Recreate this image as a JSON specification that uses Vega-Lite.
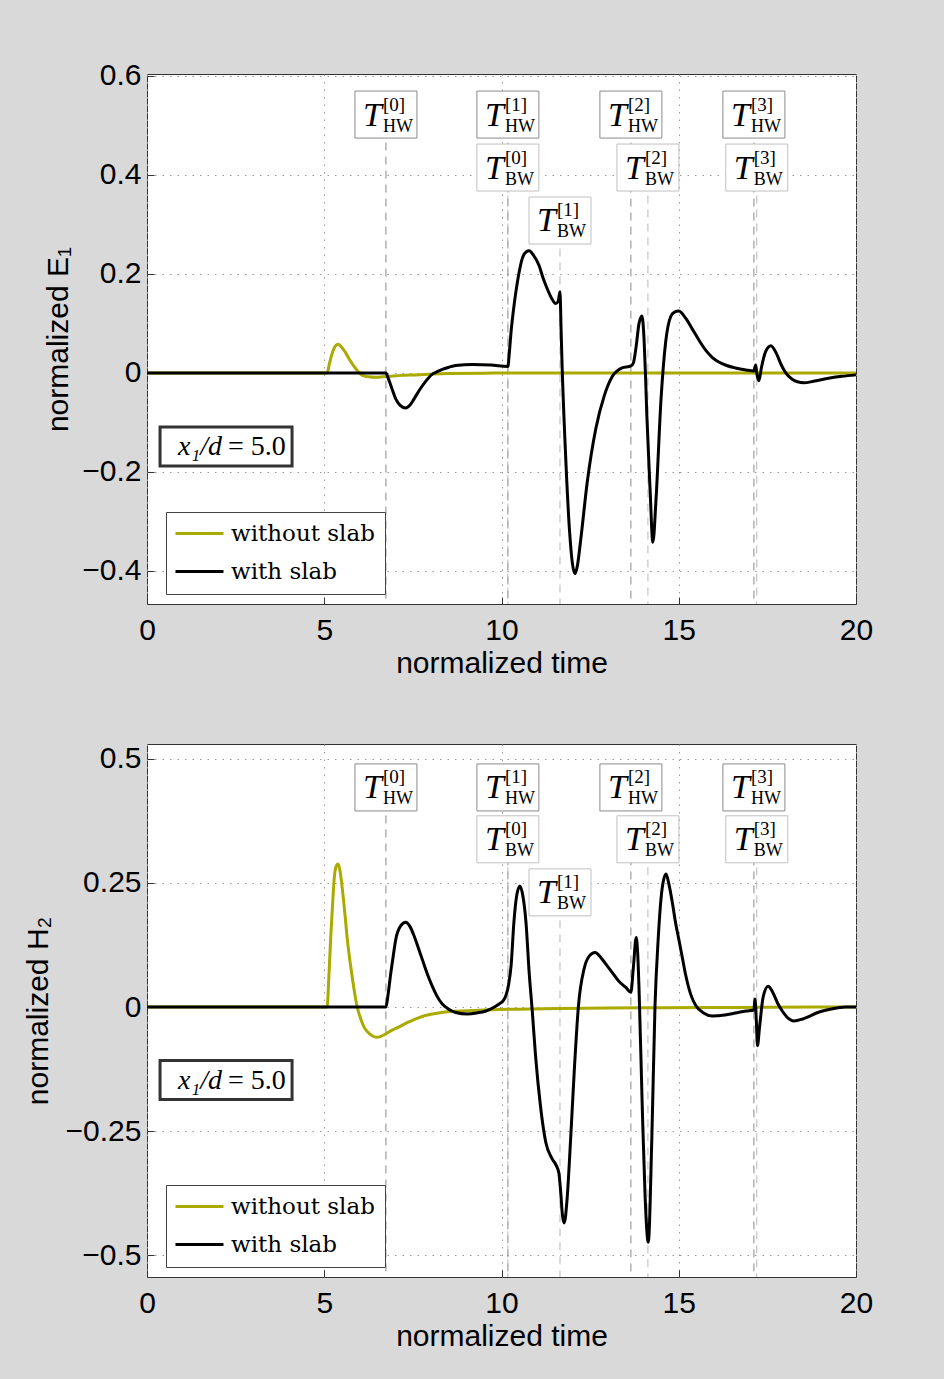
{
  "$schema": "https://vega.github.io/schema/vega-lite/v6.json",
  "background": "#d9d9d9",
  "padding": {"left": 22, "top": 60, "right": 70, "bottom": 33},
  "spacing": 140,
  "bounds": "flush",
  "config": {
    "view": {"fill": "white", "stroke": "#333333", "strokeWidth": 1},
    "axis": {
      "labelFont": "Liberation Sans", "labelFontSize": 30, "labelColor": "black",
      "titleFont": "Liberation Sans", "titleFontSize": 30, "titleFontWeight": "normal", "titleColor": "black",
      "domain": false, "ticks": true, "tickSize": -7, "tickColor": "#333333",
      "grid": true, "gridColor": "#9a9a9a", "gridDash": [1.5, 6], "gridWidth": 1,
      "labelFlush": false, "labelOverlap": false
    }
  },
  "resolve": {"scale": {"color": "independent"}, "legend": {"color": "independent"}},
  "datasets": {
    "top": [
      {"s":"without slab","t":0,"v":0},{"s":"without slab","t":5.08,"v":0},{"s":"without slab","t":5.15,"v":0.02},{"s":"without slab","t":5.23,"v":0.041},{"s":"without slab","t":5.31,"v":0.054},{"s":"without slab","t":5.39,"v":0.058},{"s":"without slab","t":5.48,"v":0.053},{"s":"without slab","t":5.6,"v":0.041},{"s":"without slab","t":5.72,"v":0.026},{"s":"without slab","t":5.84,"v":0.013},{"s":"without slab","t":5.95,"v":0.003},{"s":"without slab","t":6.07,"v":-0.005},{"s":"without slab","t":6.25,"v":-0.008},{"s":"without slab","t":6.45,"v":-0.009},{"s":"without slab","t":6.65,"v":-0.008},{"s":"without slab","t":6.83,"v":-0.007},{"s":"without slab","t":7.2,"v":-0.005},{"s":"without slab","t":7.58,"v":-0.004},{"s":"without slab","t":8.05,"v":-0.002},{"s":"without slab","t":8.52,"v":-0.001},{"s":"without slab","t":9.5,"v":-0.0005},{"s":"without slab","t":11,"v":0},{"s":"without slab","t":20,"v":0},
      {"s":"with slab","t":0,"v":0},{"s":"with slab","t":6.74,"v":0},{"s":"with slab","t":6.8,"v":-0.01},{"s":"with slab","t":6.9,"v":-0.03},{"s":"with slab","t":7.02,"v":-0.053},{"s":"with slab","t":7.15,"v":-0.066},{"s":"with slab","t":7.3,"v":-0.071},{"s":"with slab","t":7.42,"v":-0.065},{"s":"with slab","t":7.53,"v":-0.053},{"s":"with slab","t":7.7,"v":-0.033},{"s":"with slab","t":7.85,"v":-0.018},{"s":"with slab","t":8.04,"v":-0.003},{"s":"with slab","t":8.2,"v":0.003},{"s":"with slab","t":8.33,"v":0.007},{"s":"with slab","t":8.5,"v":0.011},{"s":"with slab","t":8.71,"v":0.015},{"s":"with slab","t":9.18,"v":0.017},{"s":"with slab","t":9.7,"v":0.016},{"s":"with slab","t":10.18,"v":0.013},{"s":"with slab","t":10.22,"v":0.04},{"s":"with slab","t":10.27,"v":0.083},{"s":"with slab","t":10.36,"v":0.14},{"s":"with slab","t":10.45,"v":0.184},{"s":"with slab","t":10.58,"v":0.23},{"s":"with slab","t":10.7,"v":0.245},{"s":"with slab","t":10.78,"v":0.247},{"s":"with slab","t":10.9,"v":0.238},{"s":"with slab","t":11.06,"v":0.217},{"s":"with slab","t":11.18,"v":0.19},{"s":"with slab","t":11.29,"v":0.17},{"s":"with slab","t":11.42,"v":0.15},{"s":"with slab","t":11.53,"v":0.14},{"s":"with slab","t":11.6,"v":0.145},{"s":"with slab","t":11.65,"v":0.164},{"s":"with slab","t":11.68,"v":0.09},{"s":"with slab","t":11.71,"v":0.014},{"s":"with slab","t":11.8,"v":-0.153},{"s":"with slab","t":11.92,"v":-0.32},{"s":"with slab","t":12.0,"v":-0.385},{"s":"with slab","t":12.07,"v":-0.406},{"s":"with slab","t":12.14,"v":-0.39},{"s":"with slab","t":12.23,"v":-0.34},{"s":"with slab","t":12.42,"v":-0.22},{"s":"with slab","t":12.66,"v":-0.113},{"s":"with slab","t":12.9,"v":-0.046},{"s":"with slab","t":13.12,"v":-0.008},{"s":"with slab","t":13.4,"v":0.01},{"s":"with slab","t":13.65,"v":0.014},{"s":"with slab","t":13.72,"v":0.02},{"s":"with slab","t":13.79,"v":0.049},{"s":"with slab","t":13.88,"v":0.1},{"s":"with slab","t":13.96,"v":0.115},{"s":"with slab","t":14.02,"v":0.07},{"s":"with slab","t":14.06,"v":0.0},{"s":"with slab","t":14.1,"v":-0.086},{"s":"with slab","t":14.19,"v":-0.234},{"s":"with slab","t":14.27,"v":-0.342},{"s":"with slab","t":14.36,"v":-0.254},{"s":"with slab","t":14.5,"v":-0.053},{"s":"with slab","t":14.63,"v":0.062},{"s":"with slab","t":14.78,"v":0.115},{"s":"with slab","t":14.88,"v":0.123},{"s":"with slab","t":15.0,"v":0.125},{"s":"with slab","t":15.2,"v":0.11},{"s":"with slab","t":15.38,"v":0.089},{"s":"with slab","t":15.58,"v":0.065},{"s":"with slab","t":15.77,"v":0.045},{"s":"with slab","t":15.95,"v":0.031},{"s":"with slab","t":16.13,"v":0.022},{"s":"with slab","t":16.35,"v":0.015},{"s":"with slab","t":16.6,"v":0.01},{"s":"with slab","t":16.9,"v":0.006},{"s":"with slab","t":17.12,"v":0.004},{"s":"with slab","t":17.17,"v":0.016},{"s":"with slab","t":17.2,"v":0.0},{"s":"with slab","t":17.26,"v":-0.016},{"s":"with slab","t":17.33,"v":0.01},{"s":"with slab","t":17.45,"v":0.043},{"s":"with slab","t":17.6,"v":0.055},{"s":"with slab","t":17.75,"v":0.04},{"s":"with slab","t":17.9,"v":0.015},{"s":"with slab","t":18.02,"v":0.0},{"s":"with slab","t":18.2,"v":-0.013},{"s":"with slab","t":18.35,"v":-0.018},{"s":"with slab","t":18.53,"v":-0.02},{"s":"with slab","t":18.8,"v":-0.017},{"s":"with slab","t":19.15,"v":-0.012},{"s":"with slab","t":19.6,"v":-0.007},{"s":"with slab","t":20,"v":-0.004}
    ],
    "bot": [
      {"s":"without slab","t":0,"v":0},{"s":"without slab","t":5.08,"v":0},{"s":"without slab","t":5.13,"v":0.06},{"s":"without slab","t":5.18,"v":0.137},{"s":"without slab","t":5.23,"v":0.2},{"s":"without slab","t":5.28,"v":0.258},{"s":"without slab","t":5.33,"v":0.282},{"s":"without slab","t":5.39,"v":0.288},{"s":"without slab","t":5.45,"v":0.272},{"s":"without slab","t":5.51,"v":0.238},{"s":"without slab","t":5.58,"v":0.19},{"s":"without slab","t":5.65,"v":0.137},{"s":"without slab","t":5.75,"v":0.08},{"s":"without slab","t":5.84,"v":0.036},{"s":"without slab","t":5.93,"v":0.0},{"s":"without slab","t":6.03,"v":-0.024},{"s":"without slab","t":6.12,"v":-0.04},{"s":"without slab","t":6.22,"v":-0.05},{"s":"without slab","t":6.35,"v":-0.058},{"s":"without slab","t":6.47,"v":-0.061},{"s":"without slab","t":6.6,"v":-0.059},{"s":"without slab","t":6.74,"v":-0.054},{"s":"without slab","t":6.9,"v":-0.047},{"s":"without slab","t":7.11,"v":-0.04},{"s":"without slab","t":7.35,"v":-0.031},{"s":"without slab","t":7.58,"v":-0.024},{"s":"without slab","t":7.8,"v":-0.018},{"s":"without slab","t":8.05,"v":-0.014},{"s":"without slab","t":8.3,"v":-0.011},{"s":"without slab","t":8.6,"v":-0.009},{"s":"without slab","t":9.2,"v":-0.007},{"s":"without slab","t":9.93,"v":-0.005},{"s":"without slab","t":10.8,"v":-0.004},{"s":"without slab","t":11.65,"v":-0.003},{"s":"without slab","t":13,"v":-0.002},{"s":"without slab","t":14.5,"v":-0.0015},{"s":"without slab","t":16,"v":-0.001},{"s":"without slab","t":17.5,"v":-0.0005},{"s":"without slab","t":20,"v":0},
      {"s":"with slab","t":0,"v":0},{"s":"with slab","t":6.74,"v":0},{"s":"with slab","t":6.8,"v":0.025},{"s":"with slab","t":6.88,"v":0.07},{"s":"with slab","t":6.95,"v":0.105},{"s":"with slab","t":7.02,"v":0.137},{"s":"with slab","t":7.15,"v":0.163},{"s":"with slab","t":7.3,"v":0.171},{"s":"with slab","t":7.42,"v":0.162},{"s":"with slab","t":7.53,"v":0.144},{"s":"with slab","t":7.65,"v":0.12},{"s":"with slab","t":7.76,"v":0.097},{"s":"with slab","t":7.9,"v":0.068},{"s":"with slab","t":8.04,"v":0.043},{"s":"with slab","t":8.18,"v":0.022},{"s":"with slab","t":8.33,"v":0.006},{"s":"with slab","t":8.5,"v":-0.004},{"s":"with slab","t":8.71,"v":-0.011},{"s":"with slab","t":9.03,"v":-0.014},{"s":"with slab","t":9.3,"v":-0.012},{"s":"with slab","t":9.56,"v":-0.008},{"s":"with slab","t":9.8,"v":0.0},{"s":"with slab","t":9.93,"v":0.006},{"s":"with slab","t":10.05,"v":0.013},{"s":"with slab","t":10.12,"v":0.022},{"s":"with slab","t":10.2,"v":0.045},{"s":"with slab","t":10.27,"v":0.083},{"s":"with slab","t":10.35,"v":0.171},{"s":"with slab","t":10.43,"v":0.225},{"s":"with slab","t":10.52,"v":0.244},{"s":"with slab","t":10.6,"v":0.225},{"s":"with slab","t":10.69,"v":0.171},{"s":"with slab","t":10.78,"v":0.07},{"s":"with slab","t":10.87,"v":-0.01},{"s":"with slab","t":10.96,"v":-0.098},{"s":"with slab","t":11.1,"v":-0.2},{"s":"with slab","t":11.25,"v":-0.273},{"s":"with slab","t":11.43,"v":-0.306},{"s":"with slab","t":11.55,"v":-0.32},{"s":"with slab","t":11.62,"v":-0.335},{"s":"with slab","t":11.67,"v":-0.373},{"s":"with slab","t":11.72,"v":-0.42},{"s":"with slab","t":11.77,"v":-0.435},{"s":"with slab","t":11.85,"v":-0.387},{"s":"with slab","t":11.95,"v":-0.266},{"s":"with slab","t":12.05,"v":-0.132},{"s":"with slab","t":12.17,"v":0.002},{"s":"with slab","t":12.33,"v":0.077},{"s":"with slab","t":12.48,"v":0.103},{"s":"with slab","t":12.64,"v":0.11},{"s":"with slab","t":12.8,"v":0.1},{"s":"with slab","t":12.94,"v":0.087},{"s":"with slab","t":13.12,"v":0.07},{"s":"with slab","t":13.31,"v":0.052},{"s":"with slab","t":13.5,"v":0.04},{"s":"with slab","t":13.65,"v":0.03},{"s":"with slab","t":13.72,"v":0.08},{"s":"with slab","t":13.8,"v":0.14},{"s":"with slab","t":13.84,"v":0.11},{"s":"with slab","t":13.88,"v":0.036},{"s":"with slab","t":13.97,"v":-0.2},{"s":"with slab","t":14.05,"v":-0.38},{"s":"with slab","t":14.14,"v":-0.474},{"s":"with slab","t":14.24,"v":-0.266},{"s":"with slab","t":14.33,"v":0.002},{"s":"with slab","t":14.42,"v":0.137},{"s":"with slab","t":14.53,"v":0.238},{"s":"with slab","t":14.64,"v":0.268},{"s":"with slab","t":14.73,"v":0.245},{"s":"with slab","t":14.82,"v":0.21},{"s":"with slab","t":14.91,"v":0.17},{"s":"with slab","t":15.0,"v":0.137},{"s":"with slab","t":15.1,"v":0.1},{"s":"with slab","t":15.2,"v":0.063},{"s":"with slab","t":15.34,"v":0.025},{"s":"with slab","t":15.48,"v":0.003},{"s":"with slab","t":15.7,"v":-0.012},{"s":"with slab","t":15.94,"v":-0.018},{"s":"with slab","t":16.3,"v":-0.016},{"s":"with slab","t":16.6,"v":-0.012},{"s":"with slab","t":16.9,"v":-0.008},{"s":"with slab","t":17.12,"v":-0.006},{"s":"with slab","t":17.15,"v":0.016},{"s":"with slab","t":17.19,"v":-0.03},{"s":"with slab","t":17.22,"v":-0.078},{"s":"with slab","t":17.28,"v":-0.04},{"s":"with slab","t":17.38,"v":0.02},{"s":"with slab","t":17.52,"v":0.042},{"s":"with slab","t":17.65,"v":0.03},{"s":"with slab","t":17.8,"v":0.006},{"s":"with slab","t":17.92,"v":-0.008},{"s":"with slab","t":18.05,"v":-0.02},{"s":"with slab","t":18.25,"v":-0.028},{"s":"with slab","t":18.5,"v":-0.024},{"s":"with slab","t":18.96,"v":-0.01},{"s":"with slab","t":19.3,"v":-0.004},{"s":"with slab","t":19.7,"v":0.0},{"s":"with slab","t":20,"v":0}
    ],
    "annTop": [
      {"t":6.74,"v":0.522,"sup":"[0]","sub":"HW"},{"t":10.18,"v":0.522,"sup":"[1]","sub":"HW"},{"t":13.65,"v":0.522,"sup":"[2]","sub":"HW"},{"t":17.12,"v":0.522,"sup":"[3]","sub":"HW"},
      {"t":10.18,"v":0.415,"sup":"[0]","sub":"BW"},{"t":11.65,"v":0.308,"sup":"[1]","sub":"BW"},{"t":14.13,"v":0.415,"sup":"[2]","sub":"BW"},{"t":17.2,"v":0.415,"sup":"[3]","sub":"BW"}
    ],
    "annBot": [
      {"t":6.74,"v":0.4425,"sup":"[0]","sub":"HW"},{"t":10.18,"v":0.4425,"sup":"[1]","sub":"HW"},{"t":13.65,"v":0.4425,"sup":"[2]","sub":"HW"},{"t":17.12,"v":0.4425,"sup":"[3]","sub":"HW"},
      {"t":10.18,"v":0.338,"sup":"[0]","sub":"BW"},{"t":11.65,"v":0.231,"sup":"[1]","sub":"BW"},{"t":14.13,"v":0.338,"sup":"[2]","sub":"BW"},{"t":17.2,"v":0.338,"sup":"[3]","sub":"BW"}
    ],
    "boxTop": [{"t":2.23,"v":-0.1485}],
    "boxBot": [{"t":2.23,"v":-0.147}]
  },
  "vconcat": [
    {
      "width": 709, "height": 530,
      "encoding": {
        "x": {"field": "t", "type": "quantitative", "scale": {"domain": [0, 20], "nice": false, "zero": false},
              "axis": {"title": "normalized time", "values": [0, 5, 10, 15, 20], "format": "d", "labelPadding": 18, "titlePadding": 3}},
        "y": {"field": "v", "type": "quantitative", "scale": {"domain": [-0.467, 0.604], "nice": false, "zero": false},
              "axis": {"title": "normalized E₁", "values": [-0.4, -0.2, 0, 0.2, 0.4, 0.6], "labelExpr": "datum.value < 0 ? '−' + toString(-datum.value) : toString(datum.value)", "labelPadding": 13, "titlePadding": 8}}
      },
      "layer": [
        {"data": {"name": "annTop"}, "mark": {"type": "rule", "strokeDash": [8, 6], "strokeWidth": 1},
         "encoding": {"y2": {"value": "height"}, "stroke": {"condition": {"test": "datum.sub == 'HW'", "value": "#8a8a8a"}, "value": "#b8b8b8"}}},
        {"data": {"name": "top"}, "transform": [{"filter": "datum.s == 'without slab'"}],
         "mark": {"type": "line", "strokeWidth": 3, "interpolate": "monotone"},
         "encoding": {"color": {"field": "s", "type": "nominal", "scale": {"domain": ["without slab", "with slab"], "range": ["#aaaa00", "#000000"]},
           "legend": {"orient": "none", "legendX": 19, "legendY": 438, "title": null, "symbolType": "M-2.4,0L2.4,0", "symbolSize": 400, "symbolStrokeWidth": 3, "symbolOffset": 12,
                      "labelFont": "DejaVu Serif", "labelFontSize": 23, "labelColor": "black", "labelOffset": 20, "fillColor": "white", "strokeColor": "#444444",
                      "padding": 10, "rowPadding": 14}}}},
        {"data": {"name": "top"}, "transform": [{"filter": "datum.s == 'with slab'"}],
         "mark": {"type": "line", "strokeWidth": 3, "interpolate": "monotone"},
         "encoding": {"color": {"field": "s", "type": "nominal", "scale": {"domain": ["without slab", "with slab"], "range": ["#aaaa00", "#000000"]}}}},
        {"data": {"name": "annTop"}, "mark": {"type": "point", "shape": "M-1,-0.758L1,-0.758L1,0.758L-1,0.758Z", "size": 3844, "filled": true, "fill": "white", "strokeWidth": 1, "opacity": 1},
         "encoding": {"stroke": {"condition": {"test": "datum.sub == 'HW'", "value": "#8a8a8a"}, "value": "#c0c0c0"}}},
        {"data": {"name": "annTop"}, "mark": {"type": "text", "text": "T", "font": "Liberation Serif", "fontStyle": "italic", "fontSize": 34, "align": "right", "baseline": "alphabetic", "dx": -4, "dy": 11, "color": "black"}},
        {"data": {"name": "annTop"}, "mark": {"type": "text", "font": "Liberation Serif", "fontSize": 19, "align": "left", "baseline": "alphabetic", "dx": -3, "dy": -4, "color": "black"}, "encoding": {"text": {"field": "sup"}}},
        {"data": {"name": "annTop"}, "mark": {"type": "text", "font": "Liberation Serif", "fontSize": 18, "align": "left", "baseline": "alphabetic", "dx": -3, "dy": 17, "color": "black"}, "encoding": {"text": {"field": "sub"}}},
        {"data": {"name": "boxTop"}, "mark": {"type": "point", "shape": "M-1,-0.2955L1,-0.2955L1,0.2955L-1,0.2955Z", "size": 17424, "filled": true, "fill": "white", "stroke": "#333333", "strokeWidth": 3, "opacity": 1}},
        {"data": {"name": "boxTop"}, "mark": {"type": "text", "text": "x₁/d", "font": "Liberation Serif", "fontStyle": "italic", "fontSize": 28, "align": "right", "baseline": "alphabetic", "dx": -4, "dy": 9, "color": "black"}},
        {"data": {"name": "boxTop"}, "mark": {"type": "text", "text": "= 5.0", "font": "Liberation Serif", "fontSize": 28, "align": "left", "baseline": "alphabetic", "dx": 2, "dy": 9, "color": "black"}}
      ]
    },
    {
      "width": 709, "height": 533,
      "encoding": {
        "x": {"field": "t", "type": "quantitative", "scale": {"domain": [0, 20], "nice": false, "zero": false},
              "axis": {"title": "normalized time", "values": [0, 5, 10, 15, 20], "format": "d", "labelPadding": 18, "titlePadding": 3}},
        "y": {"field": "v", "type": "quantitative", "scale": {"domain": [-0.544, 0.53], "nice": false, "zero": false},
              "axis": {"title": "normalized H₂", "values": [-0.5, -0.25, 0, 0.25, 0.5], "labelExpr": "datum.value < 0 ? '−' + toString(-datum.value) : toString(datum.value)", "labelPadding": 13, "titlePadding": 12}}
      },
      "layer": [
        {"data": {"name": "annBot"}, "mark": {"type": "rule", "strokeDash": [8, 6], "strokeWidth": 1},
         "encoding": {"y2": {"value": "height"}, "stroke": {"condition": {"test": "datum.sub == 'HW'", "value": "#8a8a8a"}, "value": "#b8b8b8"}}},
        {"data": {"name": "bot"}, "transform": [{"filter": "datum.s == 'without slab'"}],
         "mark": {"type": "line", "strokeWidth": 3, "interpolate": "monotone"},
         "encoding": {"color": {"field": "s", "type": "nominal", "scale": {"domain": ["without slab", "with slab"], "range": ["#aaaa00", "#000000"]},
           "legend": {"orient": "none", "legendX": 19, "legendY": 441, "title": null, "symbolType": "M-2.4,0L2.4,0", "symbolSize": 400, "symbolStrokeWidth": 3, "symbolOffset": 12,
                      "labelFont": "DejaVu Serif", "labelFontSize": 23, "labelColor": "black", "labelOffset": 20, "fillColor": "white", "strokeColor": "#444444",
                      "padding": 10, "rowPadding": 14}}}},
        {"data": {"name": "bot"}, "transform": [{"filter": "datum.s == 'with slab'"}],
         "mark": {"type": "line", "strokeWidth": 3, "interpolate": "monotone"},
         "encoding": {"color": {"field": "s", "type": "nominal", "scale": {"domain": ["without slab", "with slab"], "range": ["#aaaa00", "#000000"]}}}},
        {"data": {"name": "annBot"}, "mark": {"type": "point", "shape": "M-1,-0.758L1,-0.758L1,0.758L-1,0.758Z", "size": 3844, "filled": true, "fill": "white", "strokeWidth": 1, "opacity": 1},
         "encoding": {"stroke": {"condition": {"test": "datum.sub == 'HW'", "value": "#8a8a8a"}, "value": "#c0c0c0"}}},
        {"data": {"name": "annBot"}, "mark": {"type": "text", "text": "T", "font": "Liberation Serif", "fontStyle": "italic", "fontSize": 34, "align": "right", "baseline": "alphabetic", "dx": -4, "dy": 11, "color": "black"}},
        {"data": {"name": "annBot"}, "mark": {"type": "text", "font": "Liberation Serif", "fontSize": 19, "align": "left", "baseline": "alphabetic", "dx": -3, "dy": -4, "color": "black"}, "encoding": {"text": {"field": "sup"}}},
        {"data": {"name": "annBot"}, "mark": {"type": "text", "font": "Liberation Serif", "fontSize": 18, "align": "left", "baseline": "alphabetic", "dx": -3, "dy": 17, "color": "black"}, "encoding": {"text": {"field": "sub"}}},
        {"data": {"name": "boxBot"}, "mark": {"type": "point", "shape": "M-1,-0.2955L1,-0.2955L1,0.2955L-1,0.2955Z", "size": 17424, "filled": true, "fill": "white", "stroke": "#333333", "strokeWidth": 3, "opacity": 1}},
        {"data": {"name": "boxBot"}, "mark": {"type": "text", "text": "x₁/d", "font": "Liberation Serif", "fontStyle": "italic", "fontSize": 28, "align": "right", "baseline": "alphabetic", "dx": -4, "dy": 9, "color": "black"}},
        {"data": {"name": "boxBot"}, "mark": {"type": "text", "text": "= 5.0", "font": "Liberation Serif", "fontSize": 28, "align": "left", "baseline": "alphabetic", "dx": 2, "dy": 9, "color": "black"}}
      ]
    }
  ]
}
